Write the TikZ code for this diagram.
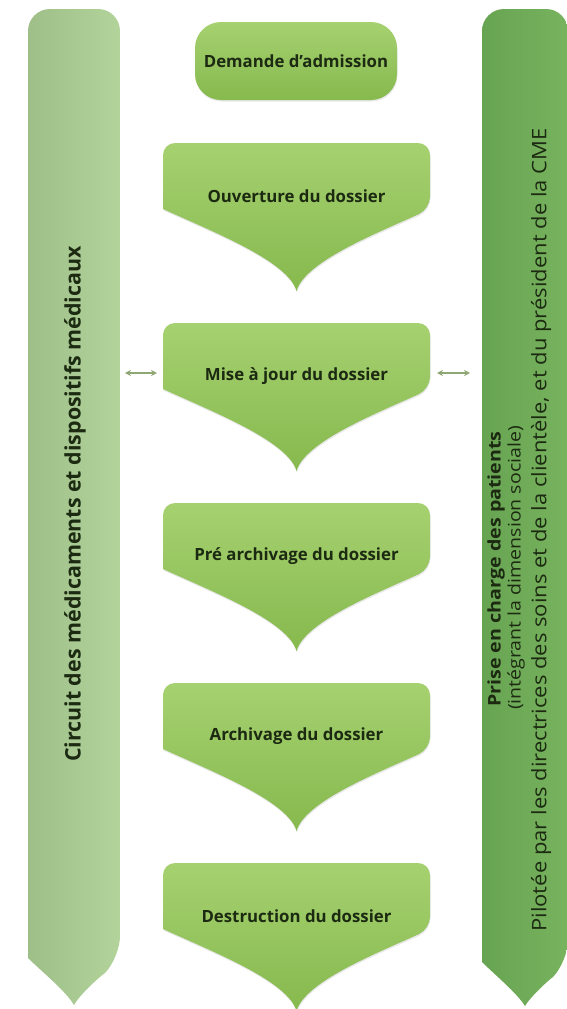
\documentclass[tikz,border=0pt]{standalone}
\usepackage{fontspec}
\setmainfont{Open Sans}
\newfontfamily\widesans[FakeStretch=1.13]{Open Sans}
\newfontfamily\widersans[FakeStretch=1.1]{Open Sans}
\usetikzlibrary{shadows,arrows.meta}

\definecolor{stepTop}{HTML}{A6D170}
\definecolor{stepBot}{HTML}{86B94E}
\definecolor{lbarL}{HTML}{9EBF88}
\definecolor{lbarR}{HTML}{B2D49B}
\definecolor{rbarL}{HTML}{67A452}
\definecolor{rbarR}{HTML}{78B35E}
\definecolor{inkDark}{HTML}{1C2A12}
\definecolor{linkGreen}{HTML}{8FA873}

\tikzset{
  stepshape/.style={top color=stepTop, bottom color=stepBot,
    drop shadow={shadow xshift=0.5pt, shadow yshift=-1.5pt, opacity=0.18}},
  leftbar/.style={left color=lbarL, right color=lbarR},
  rightbar/.style={left color=rbarL, right color=rbarR},
  steptext/.style={font=\bfseries\fontsize{16.8}{20}\selectfont, text=inkDark},
  sidetitle/.style={font=\bfseries\fontsize{21.4}{25}\selectfont, text=inkDark, rotate=90},
  sidenote/.style={text=inkDark, rotate=90},
  dblarrow/.style={draw=linkGreen, line width=1.4pt, {Stealth[length=6pt,width=6pt]}-{Stealth[length=6pt,width=6pt]}},
}

% pointed step box: #1 = top edge
\newcommand\stepbox[1]{%
  \path[stepshape] (296.5,#1+148)
    .. controls (288,#1+118) and (213,#1+89) .. (163,#1+66)
    [rounded corners=12pt] -- (163,#1) -- (430,#1) -- (430,#1+66)
    [sharp corners] .. controls (380,#1+89) and (305,#1+118) .. (296.5,#1+148) -- cycle;}

\begin{document}
\begin{tikzpicture}[x=1pt,y=-1pt]
\useasboundingbox (0,0) rectangle (567,1009);
\fill[white] (0,0) rectangle (567,1009);

\begin{scope}
\clip (0,0) rectangle (567,1009);
% side bands
\path[leftbar] (74,1005) .. controls (66,991) and (40,970) .. (28,958)
  [rounded corners=22pt] -- (28,9) -- (120,9) -- (120,958)
  [sharp corners] .. controls (108,970) and (82,991) .. (74,1005) -- cycle;
\path[rightbar] (525,1006) .. controls (517,993) and (494,974) .. (482,962)
  [rounded corners=22pt] -- (482,9) -- (568,9) -- (568,962)
  [sharp corners] .. controls (556,974) and (533,993) .. (525,1006) -- cycle;
\end{scope}

% first step
\path[stepshape, rounded corners=26pt] (195,22) rectangle (397,100);
\node[steptext] (demande) at (296,61) {Demande d’admission};

\stepbox{143}
\node[steptext] (ouverture) at (296.5,196) {Ouverture du dossier};
\stepbox{323}
\node[steptext] (mise) at (296.5,376) {Mise à jour du dossier};
\stepbox{503}
\node[steptext] (prearch) at (296.5,556) {Pré archivage du dossier};
\stepbox{683}
\node[steptext] (arch) at (296.5,736) {Archivage du dossier};
\stepbox{863}
\node[steptext] (destr) at (296.5,916) {Destruction du dossier};

% band labels
\node[sidetitle] (circuit) at (75,504) {Circuit des médicaments et dispositifs médicaux};
\node[sidetitle, font=\widesans\bfseries\fontsize{17.4}{21}\selectfont] (prise) at (496,569) {Prise en charge des patients};
\node[sidenote, font=\widesans\fontsize{17.3}{21}\selectfont] (integ) at (516,568) {(intégrant la dimension sociale)};
\node[sidenote, font=\widersans\fontsize{20}{24}\selectfont] (pilot) at (541,530) {Pilotée par les directrices des soins et de la clientèle, et du président de la CME};

% links between the bands and the update step
\coordinate (lbarE) at (120,373);
\coordinate (miseW) at (163,373);
\coordinate (miseE) at (430,373);
\coordinate (rbarW) at (482,373);
\draw[dblarrow, shorten <=5pt, shorten >=6pt] (lbarE) -- (miseW);
\draw[dblarrow, shorten <=7pt, shorten >=12pt] (miseE) -- (rbarW);
\end{tikzpicture}
\end{document}
